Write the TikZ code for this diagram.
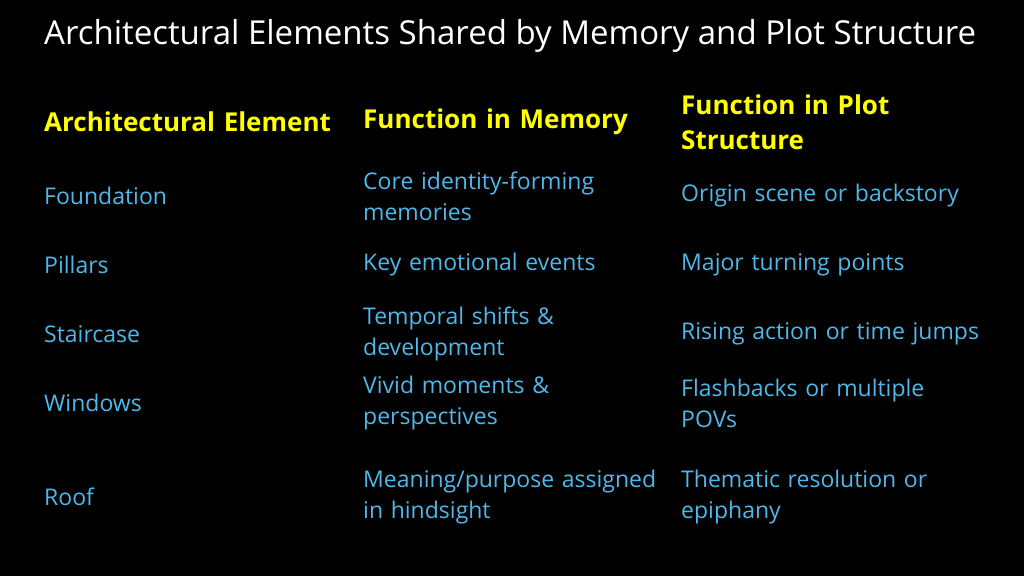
\documentclass[tikz,border=0pt]{standalone}
\usepackage{fontspec}
\setmainfont{Open Sans}
\usepackage{xcolor}
\definecolor{cellblue}{HTML}{4FB8E8}
\definecolor{headyellow}{HTML}{FFFF00}
\begin{document}
\begin{tikzpicture}[x=1pt, y=-1pt]
	\tikzstyle{cell} = [anchor=west, inner sep=0pt, text width=320pt, align=left,
	font=\fontsize{23}{31}\selectfont, text=cellblue]
	\tikzstyle{head} = [cell, text=headyellow, font=\fontsize{26}{35}\selectfont\bfseries]
	% Background
	\fill [black] (0,0) rectangle (1024,576);
	\useasboundingbox (0,0) rectangle (1024,576);
	% Title
	\node [anchor=west, inner sep=0pt, text=white, font=\fontsize{33}{38}\selectfont] (title) at (44,36)
		{Architectural Elements Shared by Memory and Plot Structure};
	% Headers
	\node [head] (helement) at (44,122) {Architectural Element};
	\node [head] (hmemory) at (363,122) {Function in Memory};
	\node [head] (hplot) at (681,122) {Function in Plot\\Structure};
	% Rows
	\node [cell] (foundation) at (44,196) {Foundation};
	\node [cell] (foundmem) at (363,196) {Core identity-forming\\memories};
	\node [cell] (foundplot) at (681,196) {Origin scene or backstory};
	\node [cell] (pillars) at (44,265) {Pillars};
	\node [cell] (pillmem) at (363,265) {Key emotional events};
	\node [cell] (pillplot) at (681,265) {Major turning points};
	\node [cell] (staircase) at (44,334) {Staircase};
	\node [cell] (stairmem) at (363,334) {Temporal shifts \&\\development};
	\node [cell] (stairplot) at (681,334) {Rising action or time jumps};
	\node [cell] (windows) at (44,403) {Windows};
	\node [cell] (winmem) at (363,403) {Vivid moments \&\\perspectives};
	\node [cell] (winplot) at (681,403) {Flashbacks or multiple\\POVs};
	\node [cell] (roof) at (44,497) {Roof};
	\node [cell] (roofmem) at (363,497) {Meaning/purpose assigned\\in hindsight};
	\node [cell] (roofplot) at (681,497) {Thematic resolution or\\epiphany};
\end{tikzpicture}
\end{document}
